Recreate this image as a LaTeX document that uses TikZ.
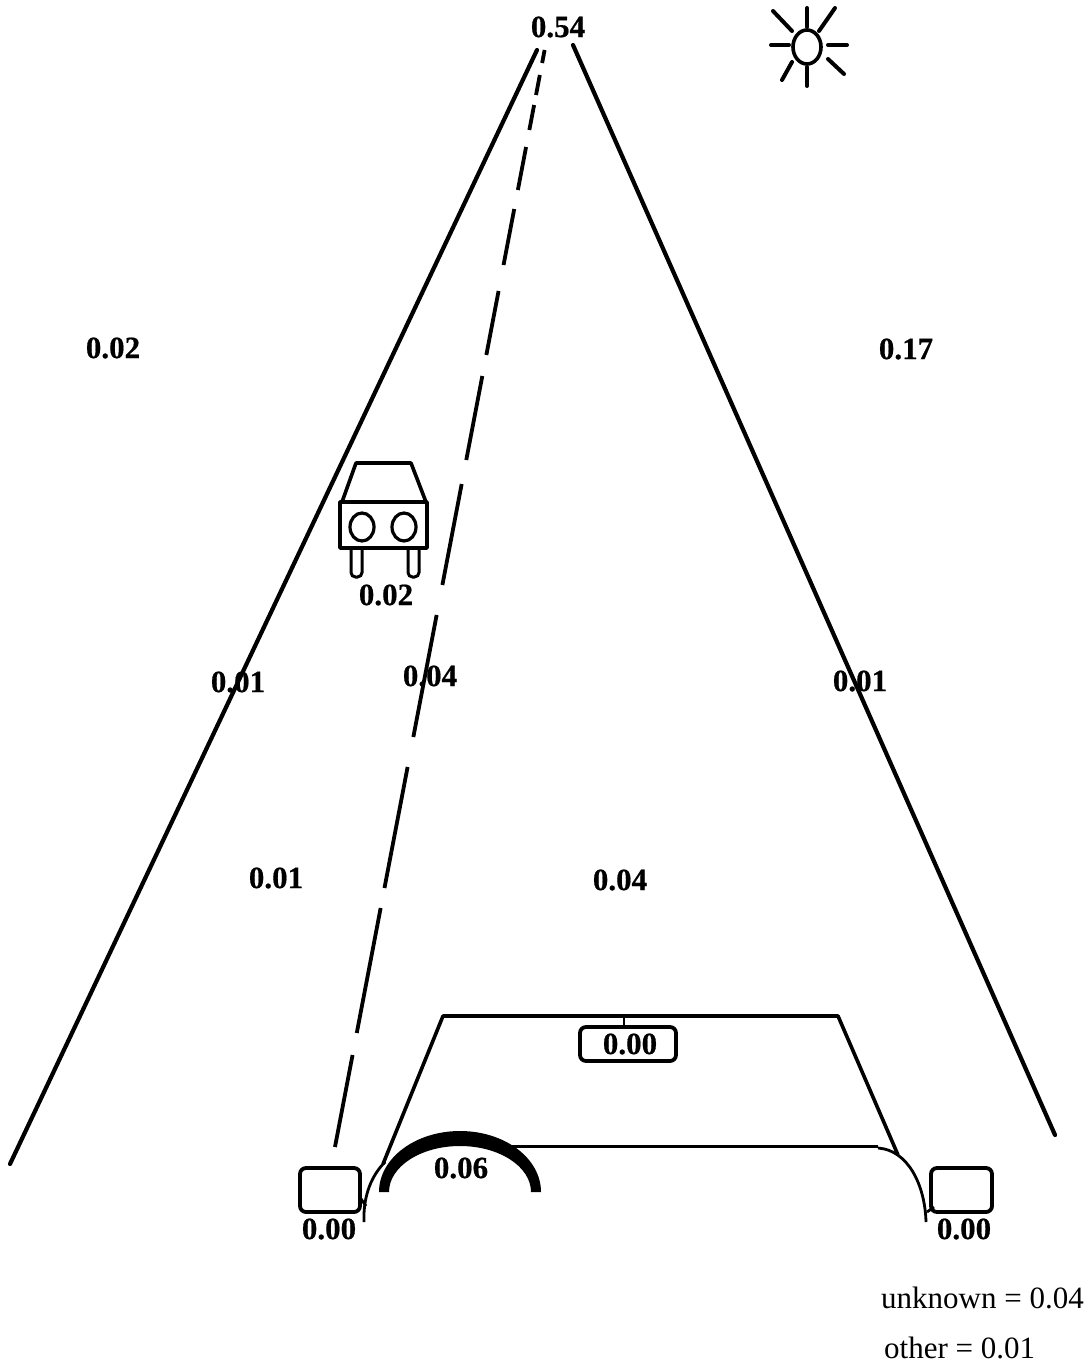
\documentclass[tikz,border=0pt]{standalone}
\usepackage{fontspec}
\setmainfont{Liberation Serif}[BoldFeatures={FakeBold=0.6}]
\usetikzlibrary{calc}
\tikzset{
  x=1pt,y=-1pt,
  prob/.style={font=\fontsize{31}{31}\selectfont\bfseries,inner sep=0pt,anchor=center},
  legendtext/.style={font=\fontsize{31}{31}\selectfont,inner sep=0pt,anchor=base west},
  road/.style={line width=4.2pt,line cap=round,black},
  thinline/.style={line width=3.6pt,black,line join=round},
  curveline/.style={line width=2.8pt,black},
  ray/.style={line width=4pt,line cap=round,black},
  boxshape/.style={line width=3.8pt,rounded corners=6pt,black},
}
\begin{document}
\begin{tikzpicture}
\useasboundingbox (0,0) rectangle (1091,1367);
% road edges
\draw[road] (537,50) -- (10,1164);
\draw[road] (573,45) -- (1055,1135);
% lane dashes
\foreach \ya/\yb in {50/63,75/95,105/130,147/190,209/265,291/355,376/460,484/585,615/737,767/888,908/1033,1055/1147}{
  \draw[line width=3.8pt,black] ({545-(\ya-48)*0.1911},\ya) -- ({545-(\yb-48)*0.1911},\yb);
}
% sun
\draw[line width=3.6pt,black] (807,47) ellipse [x radius=14,y radius=17];
\draw[ray] (807,8)--(807,27);
\draw[ray] (819,31)--(835,8);
\draw[ray] (828,45)--(847,45);
\draw[ray] (828,59)--(844,74);
\draw[ray] (807,67)--(807,86);
\draw[ray] (792,62)--(782,80);
\draw[ray] (771,45)--(789,45);
\draw[ray] (773,11)--(792,31);
% car
\draw[thinline] (342,502) -- (356,463) -- (411,463) -- (426,502);
\draw[thinline] (340,502) rectangle (427,548);
\draw[line width=3.2pt,black] (362,527) ellipse [x radius=12,y radius=14];
\draw[line width=3.2pt,black] (404,527) ellipse [x radius=12,y radius=14];
\draw[line width=3pt,black,rounded corners=4.5pt] (351,548) -- (351,577) -- (362,577) -- (362,548);
\draw[line width=3pt,black,rounded corners=4.5pt] (408,548) -- (408,577) -- (419,577) -- (419,548);
% ego vehicle: windscreen, bonnet
\draw[thinline] (383,1164) -- (443,1016) -- (838,1016) -- (898,1155);
\draw[thinline] (500,1146.5) -- (878,1146.5);
\draw[curveline] (878,1148) .. controls (908,1150) and (925,1185) .. (926,1222);
\draw[curveline] (385,1162) .. controls (372,1175) and (363,1195) .. (364,1222);
\draw[curveline] (359,1196) -- (366,1206);
\draw[curveline] (927,1212) -- (934,1207);
% steering wheel arc
\fill[black] (379,1192) arc [start angle=180,end angle=360,x radius=81,y radius=61]
  -- (531,1192) arc [start angle=360,end angle=180,x radius=71,y radius=46] -- cycle;
% mirrors
\draw[line width=2.8pt,black] (624,1016) -- (624,1027);
\draw[boxshape] (580,1027) rectangle (676,1061);
\draw[boxshape] (300,1168) rectangle (360,1212);
\draw[boxshape] (931,1168) rectangle (992,1212);
% labels
\node[prob] (a) at (558,27) {0.54};
\node[prob] (b) at (113,348) {0.02};
\node[prob] (c) at (906,349) {0.17};
\node[prob] (d) at (386,595) {0.02};
\node[prob] (e) at (238,682) {0.01};
\node[prob] (f) at (430,676) {0.04};
\node[prob] (g) at (860,681) {0.01};
\node[prob] (h) at (276,878) {0.01};
\node[prob] (i) at (620,880) {0.04};
\node[prob] (j) at (630,1044) {0.00};
\node[prob] (k) at (461,1168) {0.06};
\node[prob] (l) at (329,1229) {0.00};
\node[prob] (m) at (964,1229) {0.00};
\node[legendtext] (n) at (881,1308) {unknown = 0.04};
\node[legendtext] (o) at (884,1358) {other = 0.01};
\end{tikzpicture}
\end{document}
